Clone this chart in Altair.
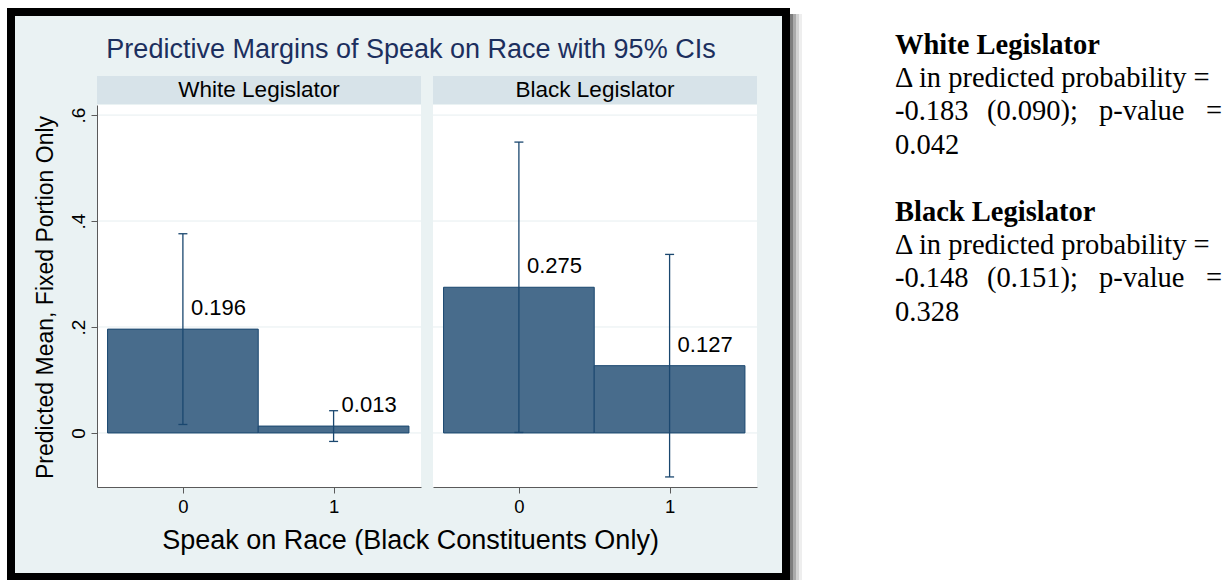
import altair as alt
import pandas as pd

# ---------------- data ----------------
panels = ["White Legislator", "Black Legislator"]
speak = [0, 1]
white_mean = [0.196, 0.013]
white_lo = [0.016, -0.016]
white_hi = [0.376, 0.042]
black_mean = [0.275, 0.127]
black_lo = [0.001, -0.083]
black_hi = [0.549, 0.337]
y_ticks = [0, 0.2, 0.4, 0.6]
x_ticks = [0, 1]

title_text = "Predictive Margins of Speak on Race with 95% CIs"
y_title = "Predicted Mean, Fixed Portion Only"
x_title = "Speak on Race (Black Constituents Only)"

note_lines = [
    ["White Legislator"],
    ["Δ in predicted probability ="],
    ["-0.183", "(0.090);", "p-value", "="],
    ["0.042"],
    ["Black Legislator"],
    ["Δ in predicted probability ="],
    ["-0.148", "(0.151);", "p-value", "="],
    ["0.328"],
]
note_bold = [True, False, False, False, True, False, False, False]

# ---------------- layout / style ----------------
SANS = "Liberation Sans"
SERIF = "Liberation Serif"
BG = "#EAF2F3"
STRIP = "#D7E3E9"
BAR = "#486C8C"
NAVY = "#1A476F"
TITLE_C = "#1C2F5E"
GRID = "#E6EEF0"
AX = "#5A5A5A"

X_DOM = [-0.57, 1.58]
Y_DOM = [-0.102, 0.619]
Y_RANGE = [487, 105]
PANEL_RANGES = [[97, 421], [433, 757]]

note_y = [45, 78, 111, 145, 212, 245, 278, 312]
note_x = [
    [895],
    [895],
    [895, 987, 1099, 1222],
    [895],
    [895],
    [895],
    [895, 987, 1099, 1222],
    [895],
]

one = pd.DataFrame({"k": [0]})


def make_panel(i, means, los, his):
    df = pd.DataFrame({"speak": speak, "mean": means, "lo": los, "hi": his})
    xs = alt.Scale(domain=X_DOM, range=PANEL_RANGES[i], nice=False, zero=False)
    ys = alt.Scale(domain=Y_DOM, range=Y_RANGE, nice=False, zero=False)

    if i == 0:
        xaxis = alt.Axis(values=x_ticks, orient="bottom", offset=-93, format="d",
                         labelFontSize=18.5, labelFont=SANS, labelColor="black", labelAngle=0,
                         labelPadding=4, tickSize=6, tickColor=AX, domainColor=AX,
                         grid=False, zindex=1,
                         title=x_title, titleFont=SANS, titleFontSize=27,
                         titleFontWeight="normal", titleColor="black",
                         titleX=410, titleY=53, titleAlign="center", titleBaseline="middle")
        yaxis = alt.Axis(values=y_ticks, orient="left", offset=-97,
                         labelExpr="datum.value == 0 ? '0' : replace(format(datum.value, '.1f'), '0.', '.')",
                         labelAngle=270, labelAlign="center", labelBaseline="alphabetic",
                         labelFontSize=19, labelFont=SANS, labelColor="black", labelPadding=7,
                         tickSize=6, tickColor=AX, domainColor=AX, grid=False, zindex=1,
                         title=y_title, titleFont=SANS, titleFontSize=23,
                         titleFontWeight="normal", titleColor="black", titleAngle=270,
                         titleX=-52, titleY=297, titleAlign="center", titleBaseline="middle")
    else:
        xaxis = alt.Axis(values=x_ticks, orient="bottom", offset=-93, format="d",
                         labelFontSize=18.5, labelFont=SANS, labelColor="black", labelAngle=0,
                         labelPadding=4, tickSize=6, tickColor=AX, domainColor=AX,
                         grid=False, zindex=1, title="")
        yaxis = None

    bg = alt.Chart(one).mark_rect(fill="white").encode(
        x=alt.XDatum(X_DOM[0], type="quantitative", scale=xs, axis=None),
        x2=alt.X2Datum(X_DOM[1]),
        y=alt.YDatum(Y_DOM[0], type="quantitative", scale=ys, axis=None),
        y2=alt.Y2Datum(Y_DOM[1]),
    )
    strip = alt.Chart(one).mark_rect(fill=STRIP).encode(
        x=alt.XDatum(X_DOM[0], type="quantitative", scale=xs, axis=None),
        x2=alt.X2Datum(X_DOM[1]),
        y=alt.value(76), y2=alt.value(104),
    )
    strip_text = alt.Chart(one).mark_text(font=SANS, fontSize=22.5, color="black",
                                           baseline="middle", align="center").encode(
        x=alt.XDatum((X_DOM[0] + X_DOM[1]) / 2, type="quantitative", scale=xs, axis=None),
        y=alt.value(90),
        text=alt.value(panels[i]),
    )
    grid = alt.Chart(pd.DataFrame({"v": y_ticks})).mark_rule(color=GRID, strokeWidth=1).encode(
        y=alt.Y("v:Q", scale=ys, axis=None),
        x=alt.XDatum(X_DOM[0], type="quantitative", scale=xs, axis=None),
        x2=alt.X2Datum(X_DOM[1]),
    )
    base = alt.Chart(df)
    if yaxis is None:
        y_enc = alt.Y("mean:Q", scale=ys, axis=None)
    else:
        y_enc = alt.Y("mean:Q", scale=ys, axis=yaxis)
    bars = base.transform_calculate(
        x0="datum.speak - 0.5", x1="datum.speak + 0.5"
    ).mark_bar(fill=BAR, stroke=NAVY, strokeWidth=1).encode(
        x=alt.X("x0:Q", scale=xs, axis=xaxis),
        x2="x1:Q",
        y=y_enc,
        y2=alt.Y2Datum(0),
    )
    err = base.mark_rule(color=NAVY, strokeWidth=1.3).encode(
        x=alt.X("speak:Q", scale=xs, axis=None),
        y=alt.Y("lo:Q", scale=ys, axis=None),
        y2="hi:Q",
    )
    cap_lo = base.mark_tick(orient="horizontal", size=9, thickness=1.3, color=NAVY, opacity=1).encode(
        x=alt.X("speak:Q", scale=xs, axis=None),
        y=alt.Y("lo:Q", scale=ys, axis=None),
    )
    cap_hi = base.mark_tick(orient="horizontal", size=9, thickness=1.3, color=NAVY, opacity=1).encode(
        x=alt.X("speak:Q", scale=xs, axis=None),
        y=alt.Y("hi:Q", scale=ys, axis=None),
    )
    labels = base.mark_text(align="left", baseline="middle", dx=8, dy=-21,
                            font=SANS, fontSize=22, color="black").encode(
        x=alt.X("speak:Q", scale=xs, axis=None),
        y=alt.Y("mean:Q", scale=ys, axis=None),
        text=alt.Text("mean:Q", format=".3f"),
    )
    return [bg, strip, strip_text, grid, bars, err, cap_lo, cap_hi, labels]


panel1 = make_panel(0, white_mean, white_lo, white_hi)
panel2 = make_panel(1, black_mean, black_lo, black_hi)

# frame with shadow
shadows = []
for x0, col in [(790, "#7d7d7d"), (793, "#aaaaaa"), (796, "#d2d2d2"), (799, "#eeeeee")]:
    shadows.append(alt.Chart(one).mark_rect(fill=col).encode(
        x=alt.value(x0), x2=alt.value(x0 + 3), y=alt.value(14), y2=alt.value(580)))
frame = alt.Chart(one).mark_rect(fill=BG, stroke="black", strokeWidth=8).encode(
    x=alt.value(11), x2=alt.value(786), y=alt.value(12), y2=alt.value(577))

title_mark = alt.Chart(one).mark_text(font=SANS, fontSize=27, color=TITLE_C,
                                      align="center", baseline="middle").encode(
    x=alt.value(411), y=alt.value(50), text=alt.value(title_text))

# notes on the right
rows_bold, rows_left, rows_right = [], [], []
for li, words in enumerate(note_lines):
    for wi, w in enumerate(words):
        row = {"t": w, "x": note_x[li][wi], "y": note_y[li]}
        if note_bold[li]:
            rows_bold.append(row)
        elif len(words) > 1 and wi == len(words) - 1:
            rows_right.append(row)
        else:
            rows_left.append(row)


def note_layer(rows, align, weight):
    return alt.Chart(pd.DataFrame(rows)).mark_text(
        font=SERIF, fontSize=28.5, fontWeight=weight, color="black",
        align=align, baseline="middle").encode(
        x=alt.X("x:Q", scale=None, axis=None),
        y=alt.Y("y:Q", scale=None, axis=None),
        text="t:N")


notes = [note_layer(rows_bold, "left", "bold"),
         note_layer(rows_left, "left", "normal"),
         note_layer(rows_right, "right", "normal")]

chart = alt.layer(
    *shadows, frame, *panel1, *panel2, title_mark, *notes
).resolve_scale(x="independent", y="independent").properties(
    width=1230, height=580, padding=0,
    autosize=alt.AutoSizeParams(type="none"),
    background="white",
).configure_view(strokeWidth=0)

chart.save("out.html", embed_options={"renderer": "svg", "actions": False})
